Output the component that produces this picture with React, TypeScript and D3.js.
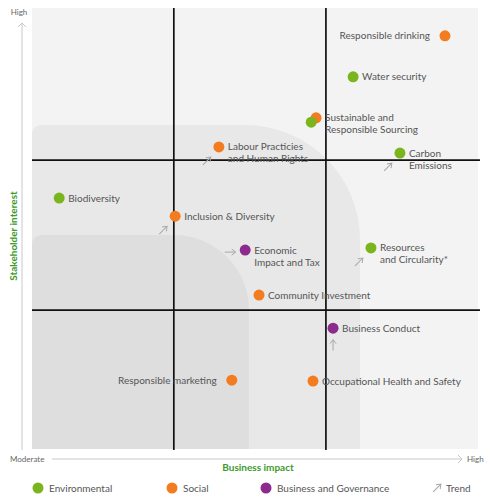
import React from "react";
import * as d3 from "d3";

const categories = ["Environmental", "Social", "Business and Governance"];
const categoryColors = ["#7ab51d", "#f47c20", "#8c2a8e"];

const topics = [
  "Responsible drinking",
  "Water security",
  "Sustainable and|Responsible Sourcing",
  "",
  "Carbon|Emissions",
  "Labour Practicies|and Human Rights",
  "Biodiversity",
  "Inclusion & Diversity",
  "Economic|Impact and Tax",
  "Resources|and Circularity*",
  "Community Investment",
  "Business Conduct",
  "Occupational Health and Safety",
  "Responsible marketing",
];
const topicCategory = [1, 0, 1, 0, 0, 1, 0, 1, 2, 0, 1, 2, 1, 1];
const businessImpact = [92.6, 72.0, 63.7, 62.6, 82.5, 41.9, 6.1, 32.1, 47.8, 76.0, 50.9, 67.5, 63.0, 44.8];
const stakeholderInterest = [93.7, 84.4, 75.1, 74.1, 67.1, 68.5, 56.9, 52.8, 45.1, 45.6, 34.9, 27.4, 15.4, 15.6];
const trends = ["", "", "", "", "upright", "upright", "", "upright", "right", "upright", "", "up", "", ""];
const labelOnLeft = [true, false, false, false, false, false, false, false, false, false, false, false, false, true];

const xThresholds = [31.8, 65.9];
const yThresholds = [65.5, 31.5];

const FONT = "Lato, 'Open Sans', sans-serif";
const GREEN_TITLE = "#3c9a2e";

export default function App() {
  const W = 490, H = 500;
  const left = 32, right = 478, top = 8, bottom = 449;
  const x = d3.scaleLinear().domain([0, 100]).range([left, right]);
  const y = d3.scaleLinear().domain([0, 100]).range([bottom, top]);

  const trendOffset: Record<string, [number, number, number]> = {
    upright: [-12, 14, -45],
    right: [-15, 2, 0],
    up: [0, 17, -90],
  };

  const outerShape = (() => {
    const x0 = left, x1 = 360, y0 = 125, y1 = bottom, r = 115, r0 = 10;
    return `M${x0},${y1} L${x0},${y0 + r0} Q${x0},${y0} ${x0 + r0},${y0} L${x1 - r},${y0} A${r},${r} 0 0 1 ${x1},${y0 + r} L${x1},${y1} Z`;
  })();
  const innerShape = (() => {
    const x0 = left, x1 = 249, y0 = 235, y1 = bottom, r = 75, r0 = 10;
    return `M${x0},${y1} L${x0},${y0 + r0} Q${x0},${y0} ${x0 + r0},${y0} L${x1 - r},${y0} A${r},${r} 0 0 1 ${x1},${y0 + r} L${x1},${y1} Z`;
  })();

  const arrow = (cx: number, cy: number, angle: number, key: string, len = 11) => (
    <g key={key} transform={`translate(${cx},${cy}) rotate(${angle})`} stroke="#a8a8a8" strokeWidth={1} fill="none">
      <line x1={-len / 2} y1={0} x2={len / 2} y2={0} />
      <polyline points={`${len / 2 - 4},-3 ${len / 2},0 ${len / 2 - 4},3`} />
    </g>
  );

  const legendItems = [
    { x: 38, label: categories[0], color: categoryColors[0] },
    { x: 172, label: categories[1], color: categoryColors[1] },
    { x: 266, label: categories[2], color: categoryColors[2] },
  ];

  return (
    <svg width={W} height={H} style={{ position: "absolute", left: 0, top: 0, fontFamily: FONT }}>
      <rect x={0} y={0} width={W} height={H} fill="#ffffff" />
      <rect x={left} y={top} width={right - left} height={bottom - top} fill="#f3f3f3" />
      <path d={outerShape} fill="#e8e8e8" />
      <path d={innerShape} fill="#dedede" />

      {xThresholds.map((t, i) => (
        <line key={"vx" + i} x1={x(t)} x2={x(t)} y1={top} y2={bottom + 1} stroke="#111" strokeWidth={1.7} />
      ))}
      {yThresholds.map((t, i) => (
        <line key={"hy" + i} x1={left} x2={right + 2} y1={y(t)} y2={y(t)} stroke="#111" strokeWidth={1.7} />
      ))}

      {/* axes */}
      <line x1={22} x2={22} y1={23} y2={450} stroke="#c8c8c8" strokeWidth={1} />
      <polyline points="18,27 22,23 26,27" stroke="#c8c8c8" fill="none" strokeWidth={1} />
      <text x={19} y={15} fontSize={8} fill="#666" textAnchor="middle">High</text>
      <line x1={52} x2={462} y1={459} y2={459} stroke="#c8c8c8" strokeWidth={1} />
      <polyline points="458,455 462,459 458,463" stroke="#c8c8c8" fill="none" strokeWidth={1} />
      <text x={467} y={462} fontSize={8} fill="#666">High</text>
      <text x={10} y={462} fontSize={8} fill="#666">Moderate</text>
      <text x={0} y={0} transform={`translate(17,${236}) rotate(-90)`} fontSize={10} fontWeight="bold" fill={GREEN_TITLE} textAnchor="middle">
        Stakeholder interest
      </text>
      <text x={258} y={471} fontSize={10} fontWeight="bold" fill={GREEN_TITLE} textAnchor="middle">
        Business impact
      </text>

      {/* trend arrows */}
      {trends.map((t, i) => {
        if (!t) return null;
        const [dx, dy, ang] = trendOffset[t];
        return arrow(x(businessImpact[i]) + dx, y(stakeholderInterest[i]) + dy, ang, "tr" + i);
      })}

      {/* points */}
      {topics.map((name, i) => {
        const cx = x(businessImpact[i]);
        const cy = y(stakeholderInterest[i]);
        const lines = name ? name.split("|") : [];
        const onLeft = labelOnLeft[i];
        return (
          <g key={"p" + i}>
            <circle cx={cx} cy={cy} r={5.5} fill={categoryColors[topicCategory[i]]} />
            {lines.map((ln, j) => (
              <text
                key={j}
                x={onLeft ? cx - 15 : cx + 9}
                y={cy + 3.5 + j * 12}
                fontSize={10}
                fill="#555"
                textAnchor={onLeft ? "end" : "start"}
              >
                {ln}
              </text>
            ))}
          </g>
        );
      })}

      {/* legend */}
      {legendItems.map((it, i) => (
        <g key={"lg" + i}>
          <circle cx={it.x} cy={488} r={5.5} fill={it.color} />
          <text x={it.x + 11} y={492} fontSize={10} fill="#555">{it.label}</text>
        </g>
      ))}
      {arrow(437, 488, -45, "lgtrend")}
      <text x={446} y={492} fontSize={10} fill="#555">Trend</text>
    </svg>
  );
}
